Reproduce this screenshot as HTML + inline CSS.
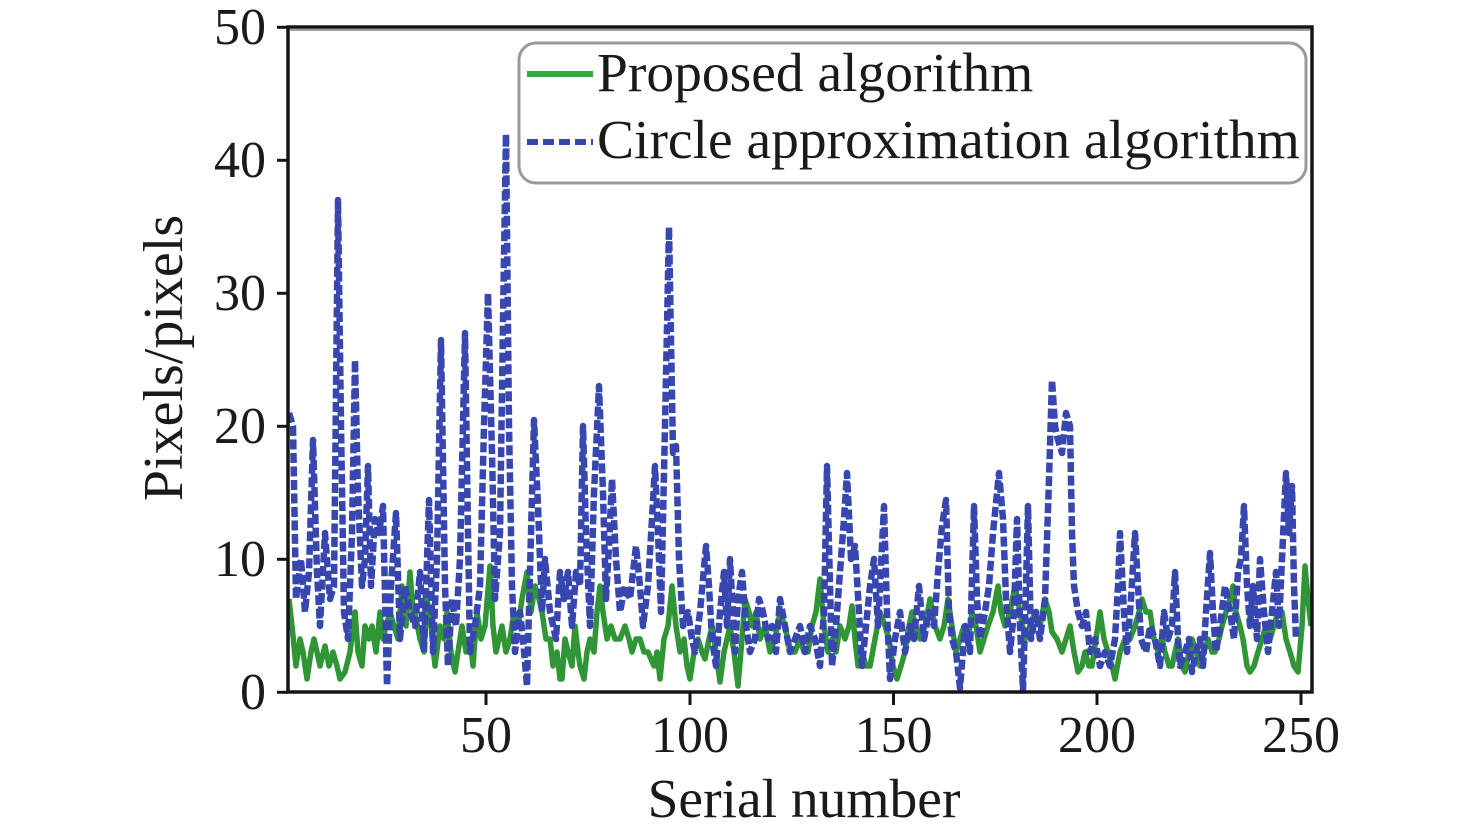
<!DOCTYPE html>
<html>
<head>
<meta charset="utf-8">
<style>
html,body{margin:0;padding:0;background:#fff;}
svg{display:block;}
text{font-family:"Liberation Serif","Times New Roman",serif;fill:#1a1a1a;}
</style>
</head>
<body>
<svg width="1476" height="834" viewBox="0 0 1476 834" xmlns="http://www.w3.org/2000/svg">
<defs>
<clipPath id="pc"><rect x="288" y="27" width="1024" height="665"/></clipPath>
</defs>
<rect x="0" y="0" width="1476" height="834" fill="#fff"/>

<g clip-path="url(#pc)" fill="none" stroke-linejoin="round" stroke-linecap="butt">
<polyline stroke="#2f9535" stroke-width="5.5" points="
289,599 292,626 296,666 300,639 303,652 307,679 311,652 314,639 317,652 320,666 325,646 329,666 333,652 337,666 340,679 345,672 350,652 355,612 358,652 362,666 365,626 369,639 372,626 376,652 380,612 383,639 386,626 390,612 394,626 398,639 402,586 406,626 410,572 413,612 415,612 420,639 424,652 427,599 431,626 435,666 440,626 444,639 447,612 451,652 455,672 458,652 462,626 466,652 470,639 473,666 477,612 481,639 485,626 490,566 493,626 496,652 499,639 502,626 506,652 510,639 514,612 518,626 522,599 527,572 531,612 535,586 539,599 542,612 546,639 550,639 553,666 557,652 560,679 562,679 565,639 568,652 572,666 575,626 578,652 580,666 584,679 587,652 590,639 594,652 597,612 600,586 603,612 607,639 611,626 615,639 620,639 625,626 629,639 632,652 636,639 640,639 644,652 648,652 651,659 654,666 657,652 660,679 664,639 668,626 672,586 676,626 680,652 684,639 687,666 690,679 694,652 698,639 702,652 705,659 709,639 712,626 716,652 720,682 724,652 727,639 730,626 734,652 738,686 742,639 745,599 749,612 752,626 756,612 760,639 765,626 770,652 775,639 780,612 785,626 790,652 795,652 800,639 804,652 808,652 812,626 816,612 820,579 824,626 828,652 832,639 836,652 840,626 845,639 849,626 852,606 855,639 858,666 862,652 866,666 870,666 875,639 880,612 885,626 889,639 893,666 897,679 901,666 905,652 909,626 912,612 916,626 920,639 925,626 930,599 935,626 940,639 944,626 948,599 952,626 956,652 960,639 964,626 968,639 972,612 976,626 980,652 984,639 988,626 993,612 998,586 1001,612 1005,626 1010,612 1015,586 1020,612 1025,639 1030,626 1035,612 1040,626 1045,599 1049,612 1052,632 1057,639 1062,652 1066,639 1070,626 1074,652 1078,672 1082,666 1085,652 1089,666 1092,666 1096,639 1100,612 1104,639 1108,652 1112,666 1115,679 1120,652 1125,639 1130,639 1135,626 1139,612 1142,599 1146,612 1150,612 1154,639 1158,652 1162,639 1165,652 1169,666 1172,666 1175,652 1178,639 1182,666 1185,672 1189,652 1192,639 1196,652 1200,666 1204,652 1208,639 1212,652 1215,652 1219,639 1222,626 1226,612 1230,599 1233,586 1236,612 1240,626 1243,639 1247,666 1250,672 1254,666 1258,652 1262,639 1266,626 1270,639 1274,626 1278,612 1282,612 1286,639 1290,652 1294,666 1298,672 1302,626 1305,566 1308,599 1311,626"/>
<polyline stroke="#3747af" stroke-width="6.5" stroke-dasharray="10 3.5" points="
289,413 293,426 296,599 301,559 305,612 309,572 313,440 317,572 320,626 325,533 330,599 334,586 338,200 341,426 344,612 348,639 352,533 355,360 358,493 362,586 365,559 368,466 371,586 375,519 379,533 383,506 387,686 391,586 396,513 400,639 405,586 410,612 415,626 420,572 424,652 429,500 433,652 437,559 441,340 445,586 448,666 452,599 456,626 460,559 465,333 468,533 470,652 475,626 480,586 484,426 488,293 492,453 495,599 500,533 503,320 506,134 509,426 512,586 515,652 520,612 523,639 527,686 531,533 534,420 538,506 542,612 545,559 550,612 556,639 560,572 564,599 568,572 572,626 576,572 580,586 583,426 586,533 590,626 594,493 599,386 603,493 606,599 609,546 612,479 616,559 620,612 625,586 630,599 636,546 640,586 643,626 648,586 652,519 655,466 658,533 661,612 665,426 669,227 673,453 676,446 679,559 683,626 688,612 692,639 695,652 700,612 706,546 709,586 712,639 716,666 720,612 724,572 727,626 730,559 735,652 738,599 742,572 746,626 750,652 755,639 759,599 763,612 768,639 772,626 776,652 780,599 785,626 790,652 795,639 800,626 805,652 810,626 815,639 820,666 824,612 827,466 830,586 832,666 836,626 840,572 844,519 847,473 851,559 855,546 859,612 862,666 866,626 870,586 874,559 878,626 884,506 887,612 890,679 895,639 900,612 905,652 910,626 914,639 919,586 924,639 929,612 934,626 938,572 942,526 946,500 949,612 952,639 956,652 960,688 965,626 970,652 974,506 977,599 980,639 985,612 989,586 993,533 999,473 1003,519 1006,599 1010,652 1014,612 1017,519 1020,626 1023,690 1026,586 1028,506 1031,639 1036,612 1040,639 1045,599 1049,479 1052,380 1055,426 1058,440 1062,453 1066,413 1070,426 1072,533 1074,586 1078,612 1082,626 1086,612 1090,652 1095,639 1100,666 1105,652 1110,666 1115,639 1118,586 1120,533 1124,612 1127,652 1131,599 1135,533 1138,586 1141,639 1146,652 1150,626 1155,639 1160,666 1164,612 1168,639 1172,626 1175,572 1178,639 1180,666 1185,652 1189,639 1192,672 1196,652 1200,639 1203,666 1206,612 1210,553 1213,612 1216,652 1220,626 1225,586 1230,612 1234,639 1238,572 1241,559 1244,506 1247,586 1250,626 1253,586 1257,639 1260,559 1264,612 1268,652 1272,612 1276,572 1279,626 1282,559 1286,473 1289,533 1292,486 1294,586 1296,639"/>
</g>

<!-- spines -->
<rect x="288" y="27" width="1024" height="665" fill="none" stroke="#151515" stroke-width="3.5"/>
<line x1="290" y1="30" x2="1310" y2="30" stroke="#9aa0a8" stroke-width="2"/>

<!-- ticks -->
<g stroke="#151515" stroke-width="3">
<line x1="277" y1="692.3" x2="288" y2="692.3"/>
<line x1="277" y1="559.3" x2="288" y2="559.3"/>
<line x1="277" y1="426.3" x2="288" y2="426.3"/>
<line x1="277" y1="293.3" x2="288" y2="293.3"/>
<line x1="277" y1="160.3" x2="288" y2="160.3"/>
<line x1="277" y1="27.3" x2="288" y2="27.3"/>
<line x1="486" y1="692" x2="486" y2="705"/>
<line x1="690" y1="692" x2="690" y2="705"/>
<line x1="893.5" y1="692" x2="893.5" y2="705"/>
<line x1="1097" y1="692" x2="1097" y2="705"/>
<line x1="1301" y1="692" x2="1301" y2="705"/>
</g>

<g font-size="52" text-anchor="end">
<text x="266" y="709">0</text>
<text x="266" y="576">10</text>
<text x="266" y="443">20</text>
<text x="266" y="310">30</text>
<text x="266" y="177">40</text>
<text x="266" y="44">50</text>
</g>
<g font-size="52" text-anchor="middle">
<text x="486" y="752">50</text>
<text x="690" y="752">100</text>
<text x="893.5" y="752">150</text>
<text x="1097" y="752">200</text>
<text x="1301" y="752">250</text>
</g>

<text x="804" y="817" font-size="55.5" text-anchor="middle">Serial number</text>
<text transform="translate(182,358) rotate(-90)" font-size="56" text-anchor="middle">Pixels/pixels</text>

<!-- legend -->
<rect x="519" y="43" width="787" height="140" rx="17" ry="17" fill="#fff" stroke="#999" stroke-width="3"/>
<line x1="527" y1="74" x2="593" y2="74" stroke="#3aa63f" stroke-width="6"/>
<line x1="527" y1="142" x2="593" y2="142" stroke="#3747af" stroke-width="6" stroke-dasharray="11 5"/>
<text x="597" y="91" font-size="55.5">Proposed algorithm</text>
<text x="597" y="158" font-size="55.5">Circle approximation algorithm</text>
</svg>
</body>
</html>
